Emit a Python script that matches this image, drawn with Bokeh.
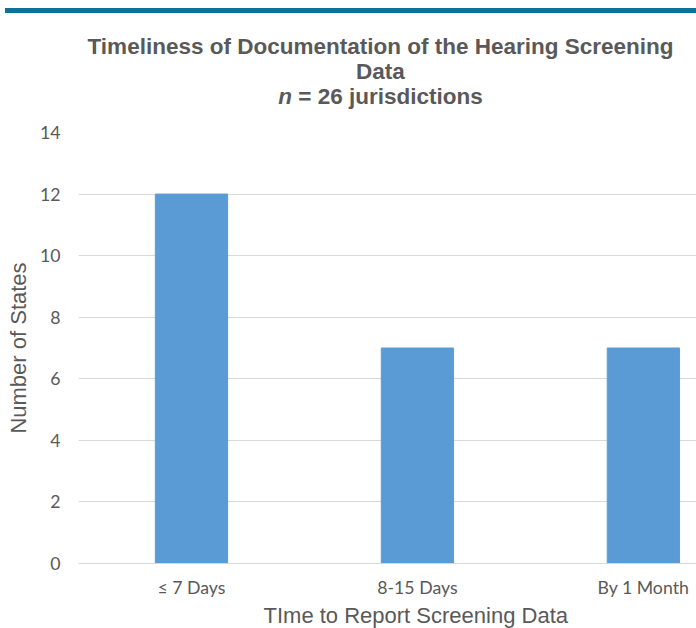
from bokeh.plotting import figure
from bokeh.models import Range1d, FixedTicker, Div, ColumnDataSource, Title
from bokeh.layouts import column
from bokeh.embed import file_html
from bokeh.resources import INLINE

# ---- data ----
categories = ["≤ 7 Days", "8-15 Days", "By 1 Month"]
values = [12, 7, 7]
y_ticks = [0, 2, 4, 6, 8, 10, 12, 14]
title_line1 = "Timeliness of Documentation of the Hearing Screening"
title_line2 = "Data"
subtitle_var = "n"
subtitle_rest = " = 26 jurisdictions"
x_title = "TIme to Report Screening Data"
y_title = "Number of States"

positions = list(range(len(categories)))
source = ColumnDataSource(dict(x=positions, top=values, cat=categories))

TEXT = "#595959"
GRID = "#d9d9d9"
BAR = "#5b9bd5"

band = Div(text="", width=691, height=5, margin=(8, 0, 0, 5),
           styles={"background-color": "#0b7399"})

title_html = (
    '<div style="margin-left:65px;width:631px;padding-top:21px;text-align:center;'
    "font-family:'Liberation Sans',Arial,Helvetica,sans-serif;font-weight:bold;"
    f'font-size:22.5px;line-height:25px;color:{TEXT};white-space:nowrap;">'
    f"{title_line1}<br>{title_line2}<br><i>{subtitle_var}</i>{subtitle_rest}</div>"
)
title = Div(text=title_html, width=696, height=100, margin=(0, 0, 0, 0))

p = figure(
    width=696, height=515,
    x_range=Range1d(-0.5, 2.235), y_range=Range1d(0, 14),
    output_backend="svg", toolbar_location=None,
    min_border_left=78, min_border_right=0, min_border_top=19, min_border_bottom=65,
)
p.outline_line_color = None
p.background_fill_color = "white"
p.border_fill_color = "white"

p.vbar(x="x", top="top", width=0.32, source=source, fill_color=BAR, line_color=BAR, line_width=1)

p.xgrid.visible = False
p.ygrid.ticker = FixedTicker(ticks=y_ticks)
p.ygrid.grid_line_color = GRID
p.ygrid.grid_line_width = 1

# x axis
xa = p.xaxis[0]
xa.ticker = FixedTicker(ticks=positions)
xa.major_label_overrides = {i: c for i, c in zip(positions, categories)}
xa.major_tick_line_color = None
xa.minor_tick_line_color = None
xa.major_tick_out = 0
xa.major_tick_in = 0
xa.axis_line_color = GRID
xa.major_label_text_font = "Lato, 'DejaVu Sans'"
xa.major_label_text_font_size = "17.7px"
xa.major_label_text_color = TEXT
xa.major_label_standoff = 13

# x axis title (centred on the full category span, as in the reference)
xt = Title(text=x_title, align="left", offset=185, standoff=0,
           text_font="'Liberation Sans', Arial", text_font_style="normal",
           text_font_size="22px", text_color=TEXT)
p.add_layout(xt, "below")

# y axis
ya = p.yaxis[0]
ya.ticker = FixedTicker(ticks=y_ticks)
ya.major_tick_line_color = None
ya.minor_tick_line_color = None
ya.major_tick_out = 0
ya.major_tick_in = 0
ya.axis_line_color = None
ya.major_label_text_font = "Lato"
ya.major_label_text_font_size = "17.7px"
ya.major_label_text_color = TEXT
ya.major_label_standoff = 18
ya.axis_label = y_title
ya.axis_label_text_font = "'Liberation Sans', Arial"
ya.axis_label_text_font_style = "normal"
ya.axis_label_text_font_size = "22px"
ya.axis_label_text_color = TEXT
ya.axis_label_standoff = 6

layout = column(band, title, p, spacing=0)

open("out.html", "w").write(file_html(layout, INLINE))
